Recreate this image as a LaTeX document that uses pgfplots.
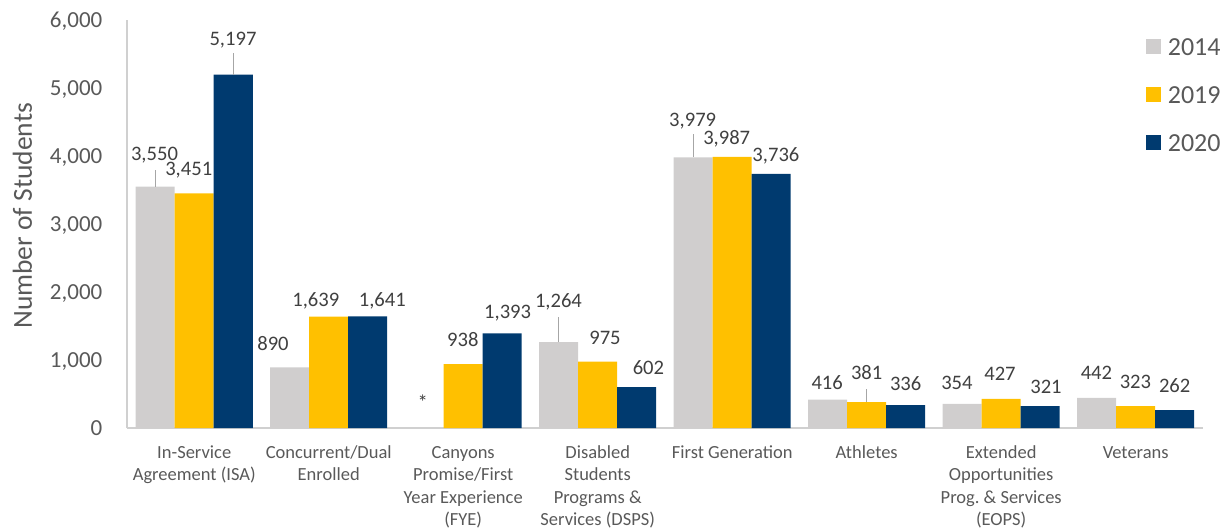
\documentclass[border=0pt]{standalone}
\usepackage{fontspec}
\setmainfont{Carlito}
\usepackage{pgfplots}
\usepackage{pgfplotstable}
\pgfplotsset{compat=1.18}
\definecolor{cGray}{HTML}{D0CECE}
\definecolor{cYel}{HTML}{FFC000}
\definecolor{cNavy}{HTML}{003A6F}
\definecolor{txt}{HTML}{595959}
\definecolor{dtxt}{HTML}{404040}
\definecolor{axl}{HTML}{D0D0D0}
\definecolor{lead}{HTML}{A6A6A6}
\pgfplotsset{sqleg/.style={legend image code/.code={\fill[##1,draw=none] (0pt,-7.5pt) rectangle (15pt,7.5pt);}}}

\pgfplotstableread{
x y
0 3550
1 890
3 1264
4 3979
5 416
6 354
7 442
}\dataA
\pgfplotstableread{
x y
0 3451
1 1639
2 938
3 975
4 3987
5 381
6 427
7 323
}\dataB
\pgfplotstableread{
x y
0 5197
1 1641
2 1393
3 602
4 3736
5 336
6 321
7 262
}\dataC
\pgfplotstableread{
x y label
-0.2955 3941 3,550
-0.041 3706 3,451
0.288 5632 5,197
0.5855 1147 890
0.904 1794 1,639
1.398 1794 1,641
1.6985 265 *
1.997 1196 938
2.33 1613 1,393
2.708 1769 1,264
3.054 1221 975
3.377 790 602
3.706 4441 3,979
3.959 4172 3,987
4.325 3916 3,736
4.706 559 416
5.0 706 381
5.29 549 336
5.671 559 354
5.991 696 427
6.333 510 321
6.708 706 442
6.998 584 323
7.29 519 262
}\labels

\begin{document}
\frenchspacing
\begin{tikzpicture}
\useasboundingbox (0,0) rectangle (1230pt,531pt);
\begin{axis}[
  at={(127pt,103pt)}, anchor=south west,
  scale only axis, width=1076pt, height=408pt,
  xmin=-0.5, xmax=7.5, ymin=0, ymax=6000,
  clip=false,
  axis lines*=left,
  axis line style={axl, line width=1.5pt},
  major tick length=0pt,
  ytick={0,1000,...,6000},
  scaled y ticks=false,
  /pgf/number format/1000 sep={,},
  /pgf/number format/assume math mode=true,
  yticklabel style={font=\fontsize{23}{27}\selectfont, text=txt, anchor=base east, inner sep=0pt, xshift=-24.5pt, yshift=-7.3pt},
  xtick={0,1,2,3,4,5,6,7},
  xticklabels={{In-Service\\Agreement (ISA)},{Concurrent/Dual\\Enrolled},{Canyons\\Promise/First\\Year Experience\\(FYE)},{Disabled\\Students\\Programs \&\\Services (DSPS)},{First Generation},{Athletes},{Extended\\Opportunities\\Prog.\ \& Services\\(EOPS)},{Veterans}},
  typeset ticklabels with strut,
  xticklabel style={align=center, font=\fontsize{18.5}{22.5}\selectfont, text=txt, anchor=north, inner sep=0pt, yshift=-14.5pt},
  ylabel={Number of Students},
  ylabel style={at={(axis description cs:-0.0971,0.52)}, anchor=center, font=\fontsize{27.5}{33}\selectfont, text=txt},
  legend style={at={(axis description cs:0.947,0.958)}, anchor=north west, draw=none, fill=none, inner sep=0pt,
    font=\fontsize{26}{31}\selectfont, text=txt, row sep=30.3pt, column sep=6.7pt,
    nodes={inner sep=0pt, text height=18pt, text depth=0pt}},
  legend cell align=left,
]
\addplot[ybar, bar width=0.29, bar shift=-0.29, fill=cGray, draw=none, sqleg] table[x=x,y=y] {\dataA};
\addlegendentry{2014}
\addplot[ybar, bar width=0.29, bar shift=0, fill=cYel, draw=none, sqleg] table[x=x,y=y] {\dataB};
\addlegendentry{2019}
\addplot[ybar, bar width=0.29, bar shift=0.29, fill=cNavy, draw=none, sqleg] table[x=x,y=y] {\dataC};
\addlegendentry{2020}
\addplot[lead, line width=1.3pt, no marks, forget plot] coordinates {(-0.29,3550) (-0.29,3794)};
\addplot[lead, line width=1.3pt, no marks, forget plot] coordinates {(0.29,5197) (0.29,5515)};
\addplot[lead, line width=1.3pt, no marks, forget plot] coordinates {(2.71,1264) (2.71,1637)};
\addplot[lead, line width=1.3pt, no marks, forget plot] coordinates {(3.71,3979) (3.71,4319)};
\addplot[lead, line width=1.3pt, no marks, forget plot] coordinates {(5.0,381) (5.0,569)};
\addplot[only marks, mark=none, forget plot, nodes near coords, point meta=explicit symbolic,
  nodes near coords style={anchor=base, inner sep=0pt, text=dtxt, font=\fontsize{20.6}{24}\selectfont}]
  table[x=x, y=y, meta=label] {\labels};
\end{axis}
\end{tikzpicture}
\end{document}
